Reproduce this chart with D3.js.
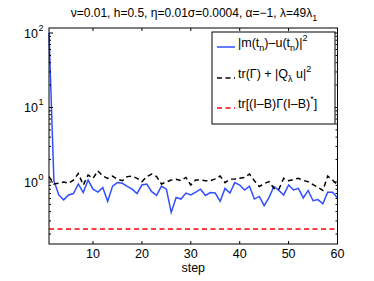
<!DOCTYPE html>
<html><head><meta charset="utf-8">
<script src="https://cdn.jsdelivr.net/npm/d3@7"></script>
<style>body{margin:0;background:#fff}svg{display:block;font-family:"Liberation Sans",Arial,sans-serif}</style>
</head><body><svg id="c" width="374" height="281"></svg>
<script>
const steps = d3.range(1, 61);
const errVals = [100,1.04,0.67,0.575,0.67,0.70,0.94,0.72,1.06,0.80,0.73,0.84,0.55,0.88,0.98,0.96,0.87,0.80,0.70,0.91,0.94,0.74,0.66,0.88,0.80,0.39,0.62,0.59,0.71,0.67,0.73,
0.80,0.66,0.72,0.71,0.55,0.82,0.71,0.98,0.91,0.78,0.88,0.59,0.64,0.48,0.62,0.87,0.77,0.67,0.91,0.78,0.82,0.61,0.77,0.56,0.58,0.51,0.73,0.73,0.61];
const trVals = [1.18,0.94,0.96,1.0,0.96,1.06,1.30,0.91,1.24,1.12,1.41,1.20,1.12,1.20,1.09,1.04,1.18,1.20,1.12,1.01,1.18,1.28,1.18,0.94,1.00,1.06,1.09,1.04,1.15,0.91,
1.06,1.06,1.04,1.04,1.10,1.20,0.98,1.09,1.10,1.12,1.15,1.28,1.04,0.87,0.95,1.01,0.82,0.80,1.12,1.04,1.08,1.12,1.05,1.01,0.92,0.85,0.77,1.20,1.06,0.91];
const redVals = steps.map(() => 0.234);
const xTicks = [10,20,30,40,50,60];
const yTicks = [1,10,100];

const svg = d3.select("#c");
const L = 49, R = 337.5, T = 28, B = 244;
const x = d3.scaleLinear().domain([1,60]).range([L,R]);
const y = d3.scaleLog().domain([0.147,116.7]).range([B,T]);

const g = svg.append("g");
const line = vals => d3.line().x((d,i)=>x(steps[i])).y(d=>y(d))(vals);
g.append("path").attr("d", line(errVals)).attr("fill","none").attr("stroke","#2f4fff").attr("stroke-width",1.5);
g.append("path").attr("d", line(trVals)).attr("fill","none").attr("stroke","#000").attr("stroke-width",1.5).attr("stroke-dasharray","5,3.5");
g.append("path").attr("d", line(redVals)).attr("fill","none").attr("stroke","#ff0000").attr("stroke-width",1.5).attr("stroke-dasharray","5,3.5");

svg.append("rect").attr("x",L).attr("y",T).attr("width",R-L).attr("height",B-T).attr("fill","none").attr("stroke","#000").attr("stroke-width",1);

xTicks.forEach(t=>{
  svg.append("line").attr("x1",x(t)).attr("x2",x(t)).attr("y1",B).attr("y2",B-3).attr("stroke","#000");
  svg.append("line").attr("x1",x(t)).attr("x2",x(t)).attr("y1",T).attr("y2",T+3).attr("stroke","#000");
  svg.append("text").attr("x",x(t)).attr("y",B+14).attr("text-anchor","middle").attr("font-size",12.5).text(t);
});
svg.append("text").attr("x",(L+R)/2).attr("y",271.5).attr("text-anchor","middle").attr("font-size",12.5).text("step");

const minors = [];
[0.1,1,10].forEach(d=>{for(let k=1;k<10;k++){const v=d*k; if(v>=0.147&&v<=116.7) minors.push(v);}});
minors.push(100);
minors.forEach(v=>{
  const major = yTicks.includes(v);
  const len = major?4:2;
  svg.append("line").attr("x1",L).attr("x2",L+len).attr("y1",y(v)).attr("y2",y(v)).attr("stroke","#000");
  svg.append("line").attr("x1",R).attr("x2",R-len).attr("y1",y(v)).attr("y2",y(v)).attr("stroke","#000");
});
yTicks.forEach(v=>{
  svg.append("text").attr("x",38).attr("y",y(v)+5).attr("text-anchor","end").attr("font-size",12.5).text("10");
  svg.append("text").attr("x",38.5).attr("y",y(v)-2).attr("font-size",9).text(Math.round(Math.log10(v)));
});

const title = svg.append("text").attr("x",194).attr("y",17).attr("text-anchor","middle").attr("font-size",12);
title.append("tspan").text("ν=0.01, h=0.5, η=0.01σ=0.0004, α=−1, λ=49λ");
title.append("tspan").attr("dy",4).attr("font-size",9).text("1");

svg.append("rect").attr("x",212).attr("y",32).attr("width",123).attr("height",92).attr("fill","#fff").attr("stroke","#000").attr("stroke-width",1);
const leg = [
  {c:"#2f4fff", dash:null, y:47},
  {c:"#000", dash:"5,3.5", y:78},
  {c:"#ff0000", dash:"5,3.5", y:108}
];
leg.forEach(l=>{
  const ln = svg.append("line").attr("x1",217).attr("x2",235).attr("y1",l.y).attr("y2",l.y).attr("stroke",l.c).attr("stroke-width",1.5);
  if(l.dash) ln.attr("stroke-dasharray",l.dash);
});
const fs = 12.5, sfs = 9;
let t1 = svg.append("text").attr("x",238).attr("y",47).attr("font-size",fs);
t1.append("tspan").text("|m(t");
t1.append("tspan").attr("dy",4).attr("font-size",sfs).text("n");
t1.append("tspan").attr("dy",-4).text(")–u(t");
t1.append("tspan").attr("dy",4).attr("font-size",sfs).text("n");
t1.append("tspan").attr("dy",-4).text(")|");
t1.append("tspan").attr("dy",-6).attr("font-size",sfs).text("2");

let t2 = svg.append("text").attr("x",238).attr("y",78).attr("font-size",fs);
t2.append("tspan").text("tr(Γ) + |Q");
t2.append("tspan").attr("dy",4).attr("font-size",sfs).text("λ");
t2.append("tspan").attr("dy",-4).text(" u|");
t2.append("tspan").attr("dy",-6).attr("font-size",sfs).text("2");

let t3 = svg.append("text").attr("x",238).attr("y",108).attr("font-size",fs);
t3.append("tspan").text("tr[(I–B)Γ(I–B)");
t3.append("tspan").attr("dy",-6).attr("font-size",sfs).text("*");
t3.append("tspan").attr("dy",6).text("]");
</script></body></html>
